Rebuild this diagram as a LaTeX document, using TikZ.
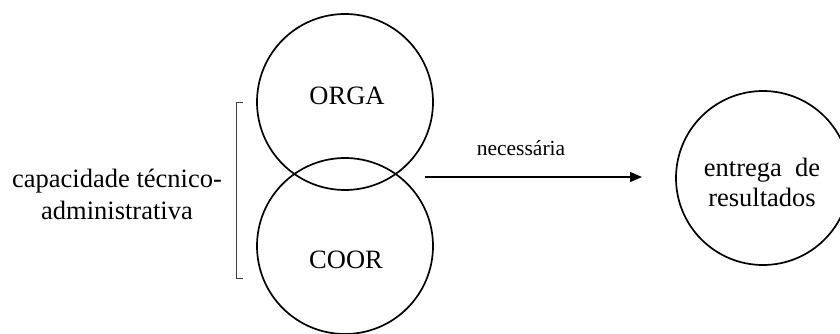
\documentclass[tikz,border=0pt]{standalone}
\usepackage{fontspec}
\setmainfont{Liberation Serif}
\usetikzlibrary{arrows.meta}
\begin{document}
\begin{tikzpicture}[x=1pt,y=-1pt,
  circ/.style={draw, circle, line width=1.7pt, inner sep=0pt},
  lbl/.style={font=\fontsize{26.5}{32}\selectfont, align=center, inner sep=0pt},
  small/.style={font=\fontsize{21.5}{26}\selectfont, inner sep=0pt}]
\useasboundingbox (0,0) rectangle (840,334);
\node[circ, minimum size=176pt] (orga) at (345,102) {};
\node[circ, minimum size=176pt] (coor) at (345,246) {};
\node[circ, minimum size=174pt] (ent) at (763,178) {};
\node[lbl] (torga) at (347,96) {ORGA};
\node[lbl] (tcoor) at (346,260) {COOR};
\node[lbl, font=\fontsize{26.5}{30}\selectfont] (tent) at (762,182) {entrega\ \ de\\resultados};
\node[lbl] (cap) at (117,194) {capacidade técnico-\\administrativa};
\draw[line width=0.9pt, black!75] (243,102) -- (236,102) -- (236,278) -- (243,278);
\coordinate (a1) at (425,177);
\coordinate (a2) at (642,177);
\draw[line width=1.1pt, -{Triangle[length=12pt,width=10pt]}] (a1) -- (a2);
\node[small] (nec) at (521,148) {necessária};
\end{tikzpicture}
\end{document}
